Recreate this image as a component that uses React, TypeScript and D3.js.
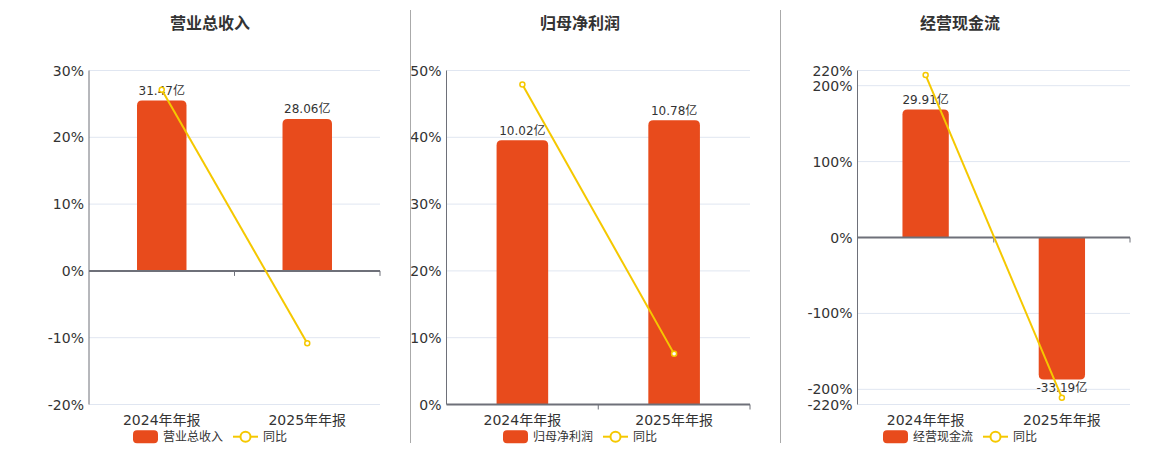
import * as d3 from "d3";

const categories = ["2024年年报", "2025年年报"];
const titles = ["营业总收入", "归母净利润", "经营现金流"];

const revenueValues = [31.47, 28.06];
const revenueYoy = [27.1, -10.84];
const profitValues = [10.02, 10.78];
const profitYoy = [47.9, 7.58];
const cashValues = [29.91, -33.19];
const cashYoy = [214, -210.97];

const revenueTicks = [-20, -10, 0, 10, 20, 30];
const profitTicks = [0, 10, 20, 30, 40, 50];
const cashTicks = [-220, -200, -100, 0, 100, 200, 220];

// hidden right-hand axis maximum for the bars
const barMaxes = [37, 12.67, 39];

const BAR = "#e84b1c";
const LINE = "#f5c800";
const TEXT = "#333";
const AXIS = "#6e7079";
const GRID = "#e0e6f1";
const FONT = "'DejaVu Sans', 'Noto Sans CJK SC', sans-serif";

const panels = [
  { title: titles[0], values: revenueValues, yoy: revenueYoy, ticks: revenueTicks, barMax: barMaxes[0], left: 89, right: 380, cx: 210 },
  { title: titles[1], values: profitValues, yoy: profitYoy, ticks: profitTicks, barMax: barMaxes[1], left: 446.5, right: 750, cx: 580 },
  { title: titles[2], values: cashValues, yoy: cashYoy, ticks: cashTicks, barMax: barMaxes[2], left: 857.5, right: 1130, cx: 960 },
];

const TOP = 70.5;
const BOTTOM = 404.5;

function barPath(x: number, w: number, y0: number, y1: number, r: number) {
  // rounded corners at the outer end (y1)
  const up = y1 < y0;
  const h = Math.abs(y1 - y0);
  const rr = Math.min(r, h / 2, w / 2);
  if (up) {
    return `M${x},${y0}V${y1 + rr}Q${x},${y1} ${x + rr},${y1}H${x + w - rr}Q${x + w},${y1} ${x + w},${y1 + rr}V${y0}Z`;
  }
  return `M${x},${y0}V${y1 - rr}Q${x},${y1} ${x + rr},${y1}H${x + w - rr}Q${x + w},${y1} ${x + w},${y1 - rr}V${y0}Z`;
}

const Panel = ({ p }: { p: (typeof panels)[number] }) => {
  const pMin = d3.min(p.ticks)!;
  const pMax = d3.max(p.ticks)!;
  const y = d3.scaleLinear().domain([pMin, pMax]).range([BOTTOM, TOP]);
  const yBar = d3.scaleLinear().domain([(pMin / pMax) * p.barMax, p.barMax]).range([BOTTOM, TOP]);
  const x = d3.scaleBand<string>().domain(categories).range([p.left, p.right]);
  const bw = x.bandwidth() * 0.34;
  const zeroY = y(0);
  const line = d3
    .line<number>()
    .x((_, i) => x(categories[i])! + x.bandwidth() / 2)
    .y((d) => y(d));

  const legendW = 25 + 5 + p.title.length * 12 + 10 + 25 + 5 + 24;
  const lx = p.cx - legendW / 2;
  const ly = 436.7;

  return (
    <g>
      <text x={p.cx} y={29} textAnchor="middle" fontSize={16} fontWeight="bold" fill={TEXT}>
        {p.title}
      </text>
      {p.ticks.map((t) => (
        <g key={t}>
          <line x1={p.left} x2={p.right} y1={y(t)} y2={y(t)} stroke={GRID} />
          <text x={p.left - 5} y={y(t)} dy="0.36em" textAnchor="end" fontSize={14} fill={TEXT}>
            {t}%
          </text>
        </g>
      ))}
      <line x1={p.left} x2={p.left} y1={TOP} y2={BOTTOM} stroke={AXIS} />
      {p.values.map((v, i) => {
        const bx = x(categories[i])! + (x.bandwidth() - bw) / 2;
        const y1 = yBar(v);
        return <path key={i} d={barPath(bx, bw, zeroY, y1, 5)} fill={BAR} />;
      })}
      <line x1={p.left} x2={p.right} y1={zeroY} y2={zeroY} stroke={AXIS} strokeWidth={2} />
      {categories.map((c, i) => (
        <line
          key={c}
          x1={x(c)! + x.bandwidth()}
          x2={x(c)! + x.bandwidth()}
          y1={zeroY}
          y2={zeroY + 5}
          stroke={AXIS}
        />
      ))}
      {p.values.map((v, i) => {
        const cx = x(categories[i])! + x.bandwidth() / 2;
        const y1 = yBar(v);
        return (
          <text key={i} x={cx} y={v >= 0 ? y1 - 5.5 : y1 + 12} textAnchor="middle" fontSize={12} fill={TEXT}>
            {v.toFixed(2)}亿
          </text>
        );
      })}
      <path d={line(p.yoy)!} fill="none" stroke={LINE} strokeWidth={2} />
      {p.yoy.map((v, i) => (
        <circle
          key={i}
          cx={x(categories[i])! + x.bandwidth() / 2}
          cy={y(v)}
          r={2.5}
          fill="#fff"
          stroke={LINE}
          strokeWidth={1.5}
        />
      ))}
      {categories.map((c) => (
        <text key={c} x={x(c)! + x.bandwidth() / 2} y={425} textAnchor="middle" fontSize={14} fill={TEXT}>
          {c}
        </text>
      ))}
      <rect x={lx} y={ly - 6.5} width={25} height={13} rx={4} fill={BAR} />
      <text x={lx + 30} y={ly + 4.3} fontSize={12} fill={TEXT}>
        {p.title}
      </text>
      <line x1={lx + 30 + p.title.length * 12 + 10} x2={lx + 30 + p.title.length * 12 + 35} y1={ly} y2={ly} stroke={LINE} strokeWidth={2} />
      <circle cx={lx + 30 + p.title.length * 12 + 22.5} cy={ly} r={5} fill="#fff" stroke={LINE} strokeWidth={2} />
      <text x={lx + 30 + p.title.length * 12 + 40} y={ly + 4.3} fontSize={12} fill={TEXT}>
        同比
      </text>
    </g>
  );
};

export default function App() {
  return (
    <svg
      width={1160}
      height={450}
      style={{ position: "absolute", left: 0, top: 0, background: "#fff" }}
      fontFamily={FONT}
    >
      {panels.map((p) => (
        <Panel key={p.title} p={p} />
      ))}
      <line x1={410.5} x2={410.5} y1={10} y2={443} stroke="#aaa" />
      <line x1={780.5} x2={780.5} y1={10} y2={443} stroke="#aaa" />
    </svg>
  );
}
